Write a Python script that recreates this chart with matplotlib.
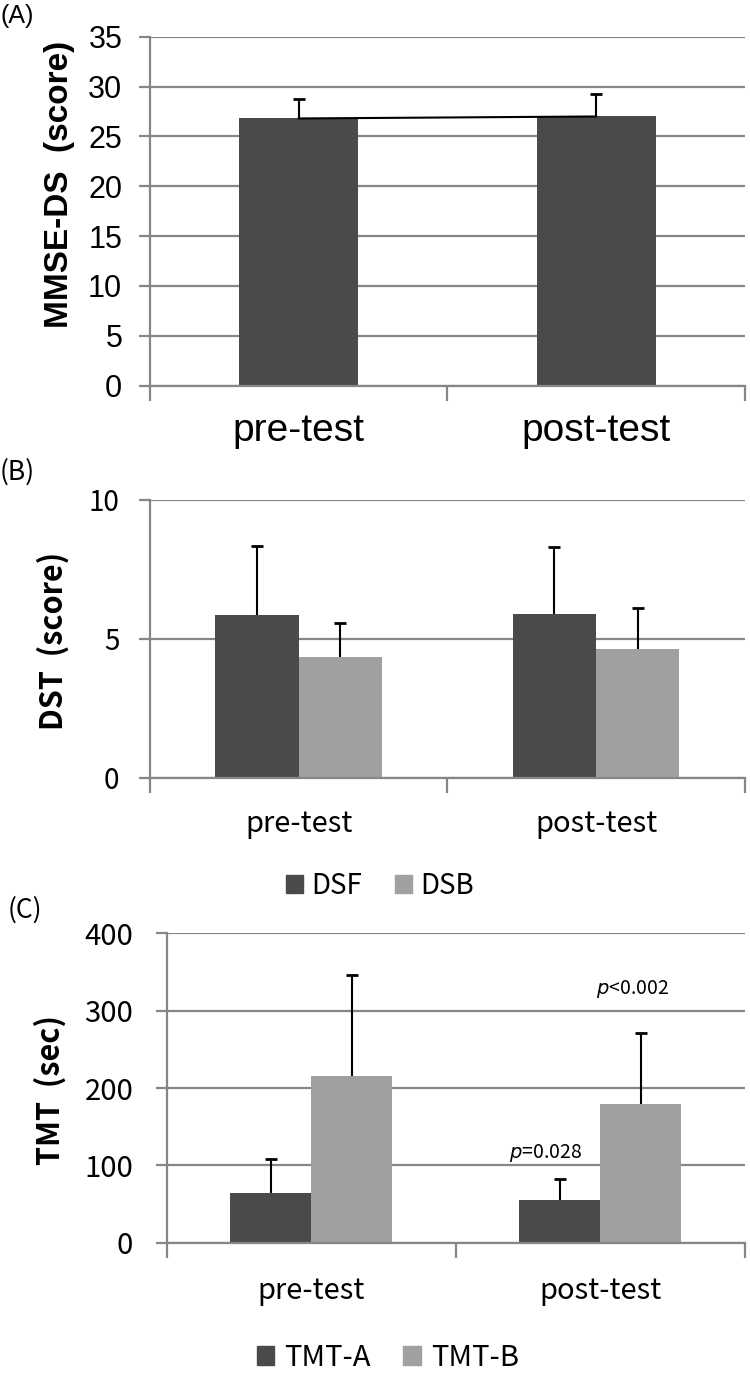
import numpy as np
import matplotlib
matplotlib.use("Agg")
import matplotlib.pyplot as plt
from matplotlib.patches import Patch

# data
groups = ["pre-test", "post-test"]

mmse_mean = [26.8, 27.0]
mmse_sd = [2.0, 2.3]

dsf_mean = [5.85, 5.9]
dsf_sd = [2.5, 2.4]
dsb_mean = [4.35, 4.63]
dsb_sd = [1.23, 1.5]

tmta_mean = [64, 55]
tmta_sd = [44, 27]
tmtb_mean = [215, 179]
tmtb_sd = [131, 92]

p_labels = ["$p$=0.028", "$p$<0.002"]

dark = "#4a4a4a"
light = "#a0a0a0"
gridc = "#868686"
kr = ["Noto Sans CJK KR", "DejaVu Sans"]
arial = ["Liberation Sans", "DejaVu Sans"]

fig = plt.figure(figsize=(7.5, 13.75), dpi=100)


def upper_err(ax, xs, mean, sd):
    # error bars only above the bar, no cap at the bottom
    eb = ax.errorbar(xs, mean, yerr=[np.zeros(len(sd)), sd], fmt="none",
                     ecolor="black", elinewidth=1.5, capsize=4.5, capthick=2,
                     zorder=3)
    eb.lines[1][0].set_visible(False)


def style_axes(ax, ymax, ystep, tickfont, ticksize, pad):
    ax.set_xlim(-0.5, 1.5)
    ax.set_ylim(0, ymax)
    ax.set_yticks(np.arange(0, ymax + 0.1, ystep))
    ax.yaxis.grid(True, color=gridc, lw=1.6)
    ax.set_axisbelow(True)
    for s in ["top", "right"]:
        ax.spines[s].set_visible(False)
    for s in ["left", "bottom"]:
        ax.spines[s].set_color(gridc)
        ax.spines[s].set_linewidth(1.6)
    ax.set_xticks([-0.5, 0.5, 1.5], minor=True)
    ax.tick_params(axis="x", which="minor", length=11, width=1.6, color=gridc)
    ax.tick_params(axis="x", which="major", length=0)
    ax.tick_params(axis="y", length=8, width=1.6, color=gridc, pad=pad)
    for t in ax.get_yticklabels():
        t.set_family(tickfont)
        t.set_fontsize(ticksize)


x = np.arange(len(groups))
w = 0.28

# (A) MMSE-DS
axA = fig.add_axes([0.2, 0.7195, 0.793, 0.2538])
axA.bar(x, mmse_mean, width=0.4, color=dark, zorder=2)
upper_err(axA, x, mmse_mean, mmse_sd)
axA.plot(x, mmse_mean, color="black", lw=1.5, zorder=3)
style_axes(axA, 35, 5, arial, 22, 12)
axA.set_xticks(x)
axA.set_xticklabels(groups, family=arial, fontsize=28)
axA.tick_params(axis="x", pad=20)
fig.text(0.08, 0.866, "MMSE-DS  (score)", rotation=90, ha="center", va="center",
         family=arial, fontsize=24, fontweight="bold")
fig.text(0.0, 0.988, "(A)", ha="left", va="center", family=arial, fontsize=18)

# (B) DST
axB = fig.add_axes([0.2, 0.4342, 0.793, 0.2022])
axB.bar(x - w / 2, dsf_mean, width=w, color=dark, zorder=2)
axB.bar(x + w / 2, dsb_mean, width=w, color=light, zorder=2)
upper_err(axB, x - w / 2, dsf_mean, dsf_sd)
upper_err(axB, x + w / 2, dsb_mean, dsb_sd)
style_axes(axB, 10, 5, kr, 20, 14)
axB.set_xticks(x)
axB.set_xticklabels(groups, family=kr, fontsize=21)
axB.tick_params(axis="x", pad=22)
fig.text(0.071, 0.534, "DST  (score)", rotation=90, ha="center", va="center",
         family=kr, fontsize=22, fontweight="bold")
fig.text(0.0, 0.6567, "(B)", ha="left", va="center", family=kr, fontsize=19)
fig.legend(handles=[Patch(color=dark, label="DSF"), Patch(color=light, label="DSB")],
           loc="center", bbox_to_anchor=(0.507, 0.356), ncol=2, frameon=False,
           prop={"family": kr, "size": 20}, handlelength=0.6, handleheight=0.6,
           handletextpad=0.3, columnspacing=1.2, borderpad=0)

# (C) TMT
axC = fig.add_axes([0.222, 0.0962, 0.771, 0.225])
axC.bar(x - w / 2, tmta_mean, width=w, color=dark, zorder=2)
axC.bar(x + w / 2, tmtb_mean, width=w, color=light, zorder=2)
upper_err(axC, x - w / 2, tmta_mean, tmta_sd)
upper_err(axC, x + w / 2, tmtb_mean, tmtb_sd)
style_axes(axC, 400, 100, kr, 21, 16)
axC.set_xticks(x)
axC.set_xticklabels(groups, family=kr, fontsize=21)
axC.tick_params(axis="x", pad=24)
axC.text(0.81, 116, p_labels[0], ha="center", va="center",
         family=kr, fontsize=14)
axC.text(1.11, 328, p_labels[1], ha="center", va="center",
         family=kr, fontsize=14)
fig.text(0.067, 0.207, "TMT  (sec)", rotation=90, ha="center", va="center",
         family=kr, fontsize=22, fontweight="bold")
fig.text(0.01, 0.338, "(C)", ha="left", va="center", family=kr, fontsize=19)
fig.legend(handles=[Patch(color=dark, label="TMT-A"), Patch(color=light, label="TMT-B")],
           loc="center", bbox_to_anchor=(0.517, 0.0125), ncol=2, frameon=False,
           prop={"family": kr, "size": 21}, handlelength=0.6, handleheight=0.6,
           handletextpad=0.35, columnspacing=1.1, borderpad=0)

fig.savefig("out.png", dpi=100)
